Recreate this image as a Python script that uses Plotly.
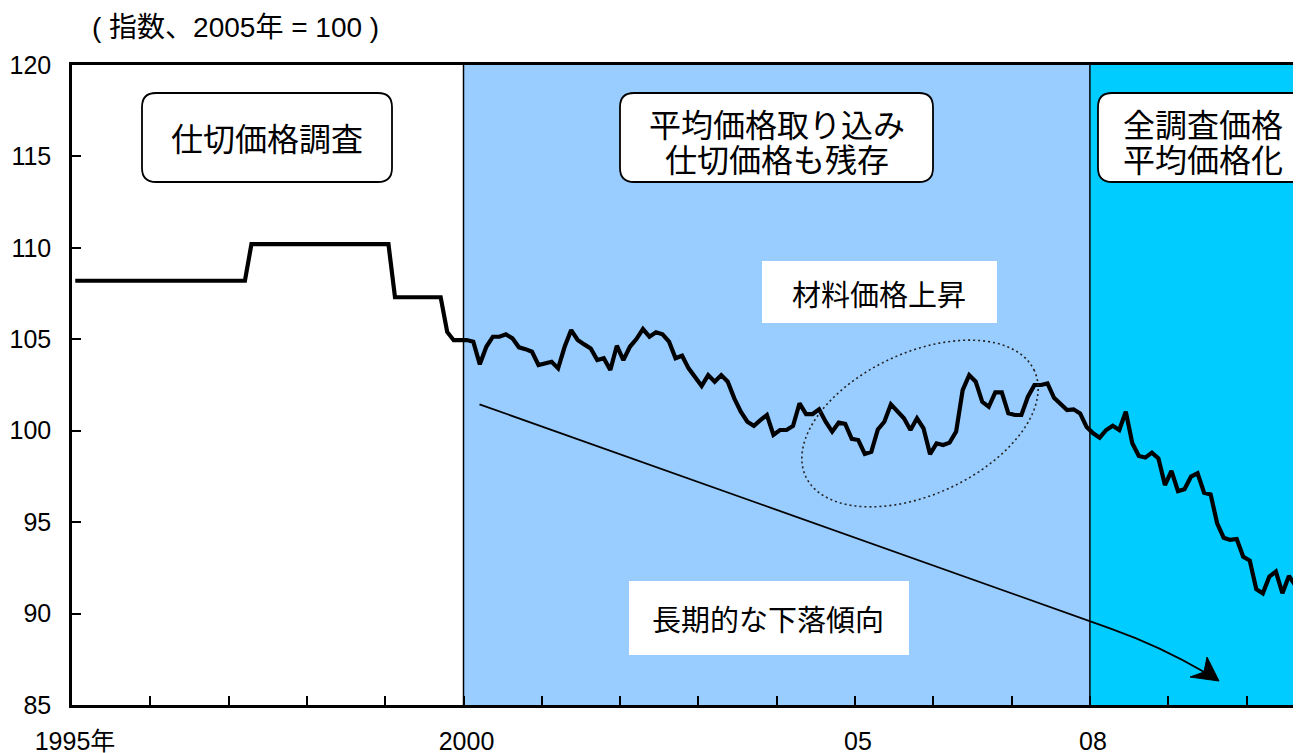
import numpy as np
import pandas as pd
import plotly.graph_objects as go

# ---------------- data (index, 2005 = 100), monthly ----------------
idx_1995 = [108.2, 108.2, 108.2, 108.2, 108.2, 108.2, 108.2, 108.2, 108.2, 108.2, 108.2, 108.2]
idx_1996 = [108.2, 108.2, 108.2, 108.2, 108.2, 108.2, 108.2, 108.2, 108.2, 108.2, 108.2, 108.2]
idx_1997 = [108.2, 108.2, 108.2, 110.2, 110.2, 110.2, 110.2, 110.2, 110.2, 110.2, 110.2, 110.2]
idx_1998 = [110.2, 110.2, 110.2, 110.2, 110.2, 110.2, 110.2, 110.2, 110.2, 110.2, 110.2, 110.2]
idx_1999 = [110.2, 107.3, 107.3, 107.3, 107.3, 107.3, 107.3, 107.3, 107.3, 105.4, 104.95, 104.95]
idx_2000 = [104.96, 104.87, 103.63, 104.59, 105.14, 105.14, 105.27, 105.05, 104.56, 104.46, 104.32, 103.59]
idx_2001 = [103.66, 103.77, 103.41, 104.59, 105.50, 104.96, 104.72, 104.50, 103.86, 103.96, 103.32, 104.65]
idx_2002 = [103.86, 104.59, 105.01, 105.56, 105.14, 105.38, 105.27, 104.87, 103.96, 104.10, 103.41, 102.95]
idx_2003 = [102.45, 103.04, 102.68, 103.04, 102.68, 101.77, 101.04, 100.49, 100.27, 100.58, 100.86, 99.77]
idx_2004 = [100.04, 100.04, 100.26, 101.50, 100.91, 100.91, 101.17, 100.49, 99.95, 100.44, 100.37, 99.55]
idx_2005 = [99.49, 98.73, 98.85, 100.07, 100.49, 101.44, 101.09, 100.68, 100.04, 100.68, 100.13, 98.72]
idx_2006 = [99.31, 99.22, 99.35, 99.95, 102.22, 103.04, 102.68, 101.58, 101.31, 102.10, 102.10, 100.95]
idx_2007 = [100.86, 100.86, 101.86, 102.50, 102.50, 102.59, 101.80, 101.50, 101.13, 101.17, 100.95, 100.20]
idx_2008 = [99.86, 99.62, 100.04, 100.27, 100.04, 101.04, 99.31, 98.62, 98.53, 98.80, 98.49, 97.03]
idx_2009 = [97.80, 96.70, 96.80, 97.49, 97.67, 96.61, 96.52, 94.94, 94.15, 94.03, 94.08, 93.11]
idx_2010 = [92.90, 91.33, 91.11, 92.02, 92.30, 91.11, 92.06, 91.53, 90.75]

tick_years = list(range(1995, 2011))
tick_text = ["1995年", "", "", "", "", "2000", "", "", "", "", "05", "", "", "08", "", ""]
y_ticks = [85, 90, 95, 100, 105, 110, 115, 120]

values = (idx_1995 + idx_1996 + idx_1997 + idx_1998 + idx_1999 + idx_2000 + idx_2001
          + idx_2002 + idx_2003 + idx_2004 + idx_2005 + idx_2006 + idx_2007 + idx_2008
          + idx_2009 + idx_2010)
months = pd.date_range("1995-01-01", periods=len(values), freq="MS")
x_vals = np.asarray(months.year + (months.month - 0.5) / 12.0, dtype=float)

# ---------------- layout geometry (page pixels; page body has an 8px margin) ----------------
OFF = 8
VW, VH = 1301, 753
W, H = VW - OFF, VH - OFF
P_LEFT, P_RIGHT, P_TOP, P_BOTTOM = 72, 1301, 65, 705   # plot area in page pixels
ML = P_LEFT - OFF
MR = VW - P_RIGHT
MT = P_TOP - OFF
MB = VH - P_BOTTOM
X_START, X_END = 1995.0, 2010.696
PW = P_RIGHT - P_LEFT
PH = P_BOTTOM - P_TOP


def px(p):
    return (p - P_LEFT) / PW


def py(p):
    return (P_BOTTOM - p) / PH


def rbox(x0, y0, x1, y1, r):
    return (f"M {px(x0 + r)},{py(y0)} L {px(x1 - r)},{py(y0)} "
            f"Q {px(x1)},{py(y0)} {px(x1)},{py(y0 + r)} L {px(x1)},{py(y1 - r)} "
            f"Q {px(x1)},{py(y1)} {px(x1 - r)},{py(y1)} L {px(x0 + r)},{py(y1)} "
            f"Q {px(x0)},{py(y1)} {px(x0)},{py(y1 - r)} L {px(x0)},{py(y0 + r)} "
            f"Q {px(x0)},{py(y0)} {px(x0 + r)},{py(y0)} Z")


FONT = "Liberation Sans, Arial, Noto Sans CJK JP, sans-serif"
CJK = "Noto Sans CJK JP, sans-serif"

fig = go.Figure()
fig.add_trace(go.Scatter(x=x_vals, y=values, mode="lines",
                         line=dict(color="black", width=4.2), hoverinfo="skip",
                         showlegend=False))

shapes = []
# background periods
shapes.append(dict(type="rect", xref="x", yref="paper", x0=2000, x1=2008, y0=0, y1=1,
                   fillcolor="#99CCFF", line=dict(width=0), layer="below"))
shapes.append(dict(type="rect", xref="x", yref="paper", x0=2008, x1=X_END, y0=0, y1=1,
                   fillcolor="#00CCFF", line=dict(width=0), layer="below"))
for xv in (2000, 2008):
    shapes.append(dict(type="line", xref="x", yref="paper", x0=xv, x1=xv, y0=0, y1=1,
                       line=dict(color="black", width=1.5), layer="below"))

# rounded label boxes
for (x0, y0, x1, y1) in [(142, 93, 392, 182), (620, 93, 933, 182), (1098, 93, 1308, 182)]:
    shapes.append(dict(type="path", xref="paper", yref="paper", path=rbox(x0, y0, x1, y1, 14),
                       fillcolor="white", line=dict(color="black", width=1.8)))
# plain white boxes
for (x0, y0, x1, y1) in [(762, 261, 997, 323), (629, 581, 909, 655)]:
    shapes.append(dict(type="rect", xref="paper", yref="paper", x0=px(x0), x1=px(x1),
                       y0=py(y1), y1=py(y0), fillcolor="white", line=dict(width=0)))

# dotted ellipse (tilted)
cx, cy, ea, eb, th = 920.0, 423.5, 126.0, 71.0, np.deg2rad(24.8)
tt = np.linspace(0, 2 * np.pi, 121)
ex = cx + ea * np.cos(tt) * np.cos(th) - eb * np.sin(tt) * np.sin(th)
ey = cy - (ea * np.cos(tt) * np.sin(th) + eb * np.sin(tt) * np.cos(th))
epath = "M " + " L ".join(f"{px(a)},{py(b)}" for a, b in zip(ex, ey)) + " Z"
shapes.append(dict(type="path", xref="paper", yref="paper", path=epath,
                   line=dict(color="#222222", width=1.6, dash="2px,3px")))

# long-term trend arrow
apath = (f"M {px(479.5)},{py(404.3)} L {px(1110)},{py(628.3)} "
         f"Q {px(1160)},{py(646)} {px(1206)},{py(673)}")
shapes.append(dict(type="path", xref="paper", yref="paper", path=apath,
                   line=dict(color="black", width=1.8)))
hpath = (f"M {px(1219)},{py(681)} L {px(1207)},{py(657)} L {px(1204)},{py(672)} "
         f"L {px(1190)},{py(677)} Z")
shapes.append(dict(type="path", xref="paper", yref="paper", path=hpath,
                   fillcolor="black", line=dict(color="black", width=1)))

annotations = []


def label(text, xc, yc, size, family=CJK):
    annotations.append(dict(text=text, xref="paper", yref="paper", x=px(xc), y=py(yc),
                            xanchor="center", yanchor="middle", showarrow=False,
                            font=dict(size=size, color="black", family=family)))


label("( 指数、2005年 = 100 )", 235, 28, 28, FONT)
label("仕切価格調査", 267, 137, 32)
label("平均価格取り込み", 776.5, 122.5, 32)
label("仕切価格も残存", 776.5, 157.5, 32)
label("全調査価格", 1202.5, 122.5, 32)
label("平均価格化", 1202.5, 157.5, 32)
label("材料価格上昇", 879, 293, 29)
label("長期的な下落傾向", 768, 618, 29)

fig.update_layout(
    width=W, height=H,
    margin=dict(l=ML, r=MR, t=MT, b=MB, pad=0, autoexpand=False),
    paper_bgcolor="white", plot_bgcolor="white",
    font=dict(family=FONT, size=25, color="black"),
    shapes=shapes, annotations=annotations,
    showlegend=False,
    xaxis=dict(range=[X_START, X_END], tickmode="array", tickvals=tick_years,
               ticktext=tick_text, ticks="inside", ticklen=9, tickwidth=2,
               tickcolor="black", showline=True, linecolor="black", linewidth=2.5,
               mirror=True, showgrid=False, zeroline=False, ticklabelstandoff=12,
               ticklabelshift=3, automargin=False, tickfont=dict(size=25, family=FONT)),
    yaxis=dict(range=[85, 120], tickmode="array", tickvals=y_ticks, ticks="inside",
               ticklen=9, tickwidth=2, tickcolor="black", showline=True,
               linecolor="black", linewidth=2.5, mirror=False, showgrid=False,
               zeroline=False, ticklabelstandoff=13, automargin=False,
               tickfont=dict(size=25, family=FONT)),
)

fig.write_html("out.html")
